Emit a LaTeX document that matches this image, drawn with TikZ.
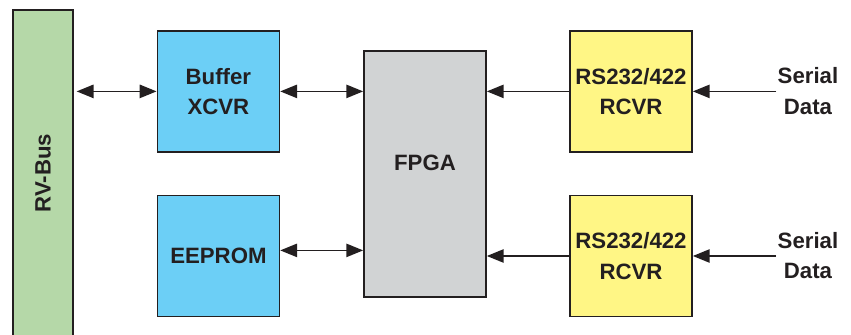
\documentclass[tikz,border=0pt]{standalone}
\usepackage{fontspec}
\setmainfont{Liberation Sans}
\usetikzlibrary{arrows.meta, positioning, calc}

\definecolor{busgreen}{RGB}{181,216,168}
\definecolor{xcvrblue}{RGB}{108,207,246}
\definecolor{fpgagray}{RGB}{209,211,212}
\definecolor{rcvryellow}{RGB}{255,246,133}
\definecolor{inkdark}{RGB}{35,31,32}

\begin{document}
\begin{tikzpicture}[
    blockbox/.style={draw=inkdark, line width=1.2pt, minimum width=3.05cm,
                     minimum height=3.03cm, inner sep=0pt, align=center,
                     text=inkdark, font=\fontsize{15.8}{21.5}\selectfont\bfseries},
    busbar/.style={blockbox, fill=busgreen, minimum width=1.5cm, minimum height=9cm},
    lbl/.style={align=center, inner sep=1pt, text=inkdark,
                font=\fontsize{15.8}{21.5}\selectfont\bfseries},
    biarrow/.style={{Triangle[length=12pt, width=9.5pt]}-{Triangle[length=12pt, width=9.5pt]},
                    line width=1.1pt, draw=inkdark, fill=inkdark},
    inarrow/.style={-{Triangle[length=12pt, width=9.5pt]},
                    line width=1.1pt, draw=inkdark, fill=inkdark},
]
\clip (0, 0) rectangle (21.275, 8.375);

% ===================== BUS =====================
\node[busbar] (bus) at (1.075, 3.625) {};
\node[lbl, rotate=90] (buslabel) at (1.075, 4.05) {RV-Bus};

% ===================== LEFT COLUMN =====================
\node[blockbox, fill=xcvrblue] (buf) at (5.46, 6.09) {Buffer\\XCVR};
\node[blockbox, fill=xcvrblue] (eeprom) at (5.46, 1.975) {EEPROM};

% ===================== FPGA =====================
\node[blockbox, fill=fpgagray, minimum height=6.15cm] (fpga) at (10.625, 4.025) {};
\node[lbl] (fpgalabel) at (10.625, 4.3) {FPGA};

% ===================== RECEIVERS =====================
\node[blockbox, fill=rcvryellow] (rcvrA) at (15.775, 6.09) {RS232/422\\RCVR};
\node[blockbox, fill=rcvryellow] (rcvrB) at (15.775, 1.975) {RS232/422\\RCVR};

\node[lbl, anchor=west] (serA) at (19.4, 6.1) {Serial\\Data};
\node[lbl, anchor=west] (serB) at (19.4, 1.98) {Serial\\Data};

% ===================== CONNECTIONS =====================
\coordinate (eepromport) at ($(eeprom.east)+(0, 0.14)$);
\draw[biarrow, shorten <=2pt] (bus.east |- buf.west) -- (buf.west);
\draw[biarrow] (buf.east) -- (fpga.west |- buf.east);
\draw[biarrow] (eepromport) -- (fpga.west |- eepromport);
\draw[inarrow] (rcvrA.west) -- (fpga.east |- rcvrA.west);
\draw[inarrow] (rcvrB.west) -- (fpga.east |- rcvrB.west);
\draw[inarrow] (serA.west |- rcvrA.east) -- (rcvrA.east);
\draw[inarrow] (serB.west |- rcvrB.east) -- (rcvrB.east);

\end{tikzpicture}
\end{document}
